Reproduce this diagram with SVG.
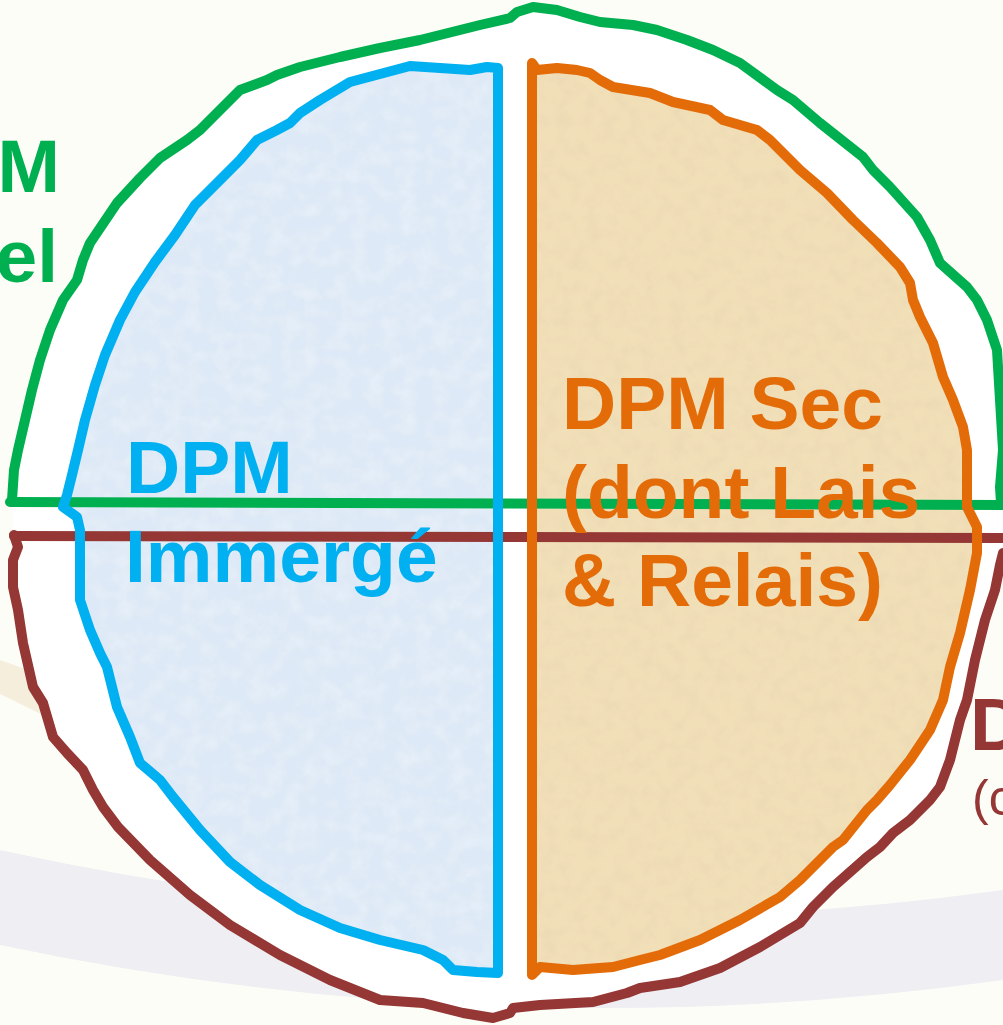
<svg xmlns="http://www.w3.org/2000/svg" width="1003" height="1025" viewBox="0 0 1003 1025">
<defs>
<style>
.out{fill:none;stroke-width:10;stroke-linejoin:round;stroke-linecap:round}
.g{stroke:#00b050}.r{stroke:#953735}.b{stroke:#00b0f0}.o{stroke:#e36c09}
.t{font-family:"Liberation Sans",Arial,sans-serif;font-weight:bold;font-size:75px}
</style>
<filter id="grainO" filterUnits="userSpaceOnUse" x="0" y="0" width="1003" height="1025">
<feTurbulence type="fractalNoise" baseFrequency="0.07" numOctaves="3" seed="7"/>
<feColorMatrix type="matrix" values="0 0 0 0 0.72  0 0 0 0 0.6  0 0 0 0 0.4  0.9 0 0 0 -0.38"/>
<feComposite in2="SourceAlpha" operator="in"/>
</filter>
<filter id="grainB" filterUnits="userSpaceOnUse" x="0" y="0" width="1003" height="1025">
<feTurbulence type="fractalNoise" baseFrequency="0.06" numOctaves="3" seed="11"/>
<feColorMatrix type="matrix" values="0 0 0 0 1  0 0 0 0 1  0 0 0 0 1  1 0 0 0 -0.4"/>
<feComposite in2="SourceAlpha" operator="in"/>
</filter>
</defs>
<rect width="1003" height="1025" fill="#fdfdf8"/>
<g id="background-swooshes">
<path d="M0,850 Q500,960 1003,890 L1003,980 Q500,1050 0,945 Z" fill="#eeeef3"/>
<path d="M0,660 L45,676 L45,716 L0,694 Z" fill="#f5eedd"/>
</g>
<g id="white-ground">
<polygon fill="#ffffff" points="12,500 14,470 18,450 25,420 32,390 40,360 50,330 63,300 77,280 83,260 90,243 117,203 140,178 160,158 187,140 200,130 213,117 233,97 240,90 267,80 277,75 300,67 340,57 380,48 420,40 460,30 480,25 510,18 517,12 533,7 557,10 580,17 600,22 633,25 657,30 687,40 713,50 740,63 777,90 793,100 820,123 863,157 873,170 890,187 917,217 930,240 940,263 967,287 977,300 987,320 997,350 1000,400 1003,450 1003,1025 1003,553 1000,565 995,590 985,620 975,660 967,700 960,720 950,760 940,787 930,800 910,820 893,833 880,847 867,857 833,887 813,907 800,923 760,947 720,968 680,982 640,988 627,993 593,1002 540,1005 513,1008 510,1013 493,1018 463,1013 423,1003 380,1000 330,980 280,955 230,925 190,895 150,860 118,827 103,807 93,790 83,770 67,753 53,737 43,703 33,687 23,643 18,610 13,587 13,560 14,535"/>
</g>
<g id="dpm-immerge">
<polygon id="blue-fill" fill="#dde9f6" points="498,68 487,67 470,70 440,68 410,66 380,74 350,82 320,100 300,113 290,123 277,130 257,140 240,160 215,185 195,205 175,235 155,262 135,292 120,320 105,355 95,385 85,420 78,450 72,475 67,495 63,507 77,517 80,530 80,560 80,600 90,630 100,653 107,667 117,707 130,737 140,763 160,780 173,797 200,830 230,862 260,885 300,910 340,928 380,940 423,950 443,960 453,970 477,972 498,973"/>
<polygon fill="#dde9f6" filter="url(#grainB)" opacity="0.6" points="498,68 487,67 470,70 440,68 410,66 380,74 350,82 320,100 300,113 290,123 277,130 257,140 240,160 215,185 195,205 175,235 155,262 135,292 120,320 105,355 95,385 85,420 78,450 72,475 67,495 63,507 77,517 80,530 80,560 80,600 90,630 100,653 107,667 117,707 130,737 140,763 160,780 173,797 200,830 230,862 260,885 300,910 340,928 380,940 423,950 443,960 453,970 477,972 498,973"/>
</g>
<g id="dpm-sec">
<polygon id="orange-fill" fill="#f1dfb8" points="532,63 537,70 557,68 577,70 590,73 600,80 613,87 650,93 673,102 710,110 723,120 757,130 770,140 800,170 827,193 853,220 877,243 900,267 910,283 913,300 920,317 933,343 943,377 953,400 963,427 967,450 967,507 977,527 977,553 970,590 960,633 950,667 943,700 930,730 910,760 890,785 877,800 867,810 843,840 833,847 820,860 800,880 780,897 740,920 700,940 660,955 640,960 613,967 573,970 540,967 532,975"/>
<polygon fill="#f1dfb8" filter="url(#grainO)" opacity="0.6" points="532,63 537,70 557,68 577,70 590,73 600,80 613,87 650,93 673,102 710,110 723,120 757,130 770,140 800,170 827,193 853,220 877,243 900,267 910,283 913,300 920,317 933,343 943,377 953,400 963,427 967,450 967,507 977,527 977,553 970,590 960,633 950,667 943,700 930,730 910,760 890,785 877,800 867,810 843,840 833,847 820,860 800,880 780,897 740,920 700,940 660,955 640,960 613,967 573,970 540,967 532,975"/>
</g>
<g id="connectors">
<path id="green-line" class="out g" d="M10,502 L1003,505"/>
<path id="red-line" class="out r" d="M14,536 L1003,538"/>
</g>
<g id="green-outline">
<polyline class="out g" points="12,500 14,470 18,450 25,420 32,390 40,360 50,330 63,300 77,280 83,260 90,243 117,203 140,178 160,158 187,140 200,130 213,117 233,97 240,90 267,80 277,75 300,67 340,57 380,48 420,40 460,30 480,25 510,18 517,12 533,7 557,10 580,17 600,22 633,25 657,30 687,40 713,50 740,63 777,90 793,100 820,123 863,157 873,170 890,187 917,217 930,240 940,263 967,287 977,300 987,320 997,350 1000,400 1003,450 1000,487 1001,503"/>
</g>
<g id="red-outline">
<polyline class="out r" points="14,535 18,547 13,560 13,587 18,610 23,643 33,687 43,703 53,737 67,753 83,770 93,790 103,807 118,827 150,860 190,895 230,925 280,955 330,980 380,1000 423,1003 463,1013 493,1018 510,1013 513,1008 540,1005 593,1002 627,993 640,988 680,982 720,968 760,947 800,923 813,907 833,887 867,857 880,847 893,833 910,820 930,800 940,787 950,760 960,720 967,700 975,660 985,620 995,590 1000,565 1003,553"/>
</g>
<g id="blue-outline">
<polyline class="out b" points="498,68 487,67 470,70 440,68 410,66 380,74 350,82 320,100 300,113 290,123 277,130 257,140 240,160 215,185 195,205 175,235 155,262 135,292 120,320 105,355 95,385 85,420 78,450 72,475 67,495 63,507 77,517 80,530 80,560 80,600 90,630 100,653 107,667 117,707 130,737 140,763 160,780 173,797 200,830 230,862 260,885 300,910 340,928 380,940 423,950 443,960 453,970 477,972 498,973 498,68"/>
</g>
<g id="orange-outline">
<polyline class="out o" points="532,975 532,63 537,70 557,68 577,70 590,73 600,80 613,87 650,93 673,102 710,110 723,120 757,130 770,140 800,170 827,193 853,220 877,243 900,267 910,283 913,300 920,317 933,343 943,377 953,400 963,427 967,450 967,507 977,527 977,553 970,590 960,633 950,667 943,700 930,730 910,760 890,785 877,800 867,810 843,840 833,847 820,860 800,880 780,897 740,920 700,940 660,955 640,960 613,967 573,970 540,967 532,975"/>
</g>
<g id="labels">
<text class="t" fill="#00b050" font-size="77" text-anchor="end" x="60" y="192">M</text>
<text class="t" fill="#00b050" font-size="77" text-anchor="end" x="58" y="282">el</text>
<text class="t" fill="#00b0f0" x="126" y="493">DPM</text>
<text class="t" fill="#00b0f0" x="125" y="582">Immergé</text>
<text class="t" fill="#e36c09" x="562" y="429">DPM Sec</text>
<text class="t" fill="#e36c09" x="562" y="518">(dont Lais</text>
<text class="t" fill="#e36c09" x="562" y="606">&amp; Relais)</text>
<text class="t" fill="#953735" font-size="77" x="970" y="750">D</text>
<text fill="#953735" font-family="Liberation Sans, Arial, sans-serif" font-size="50" x="972" y="815">(c</text>
</g>
</svg>
